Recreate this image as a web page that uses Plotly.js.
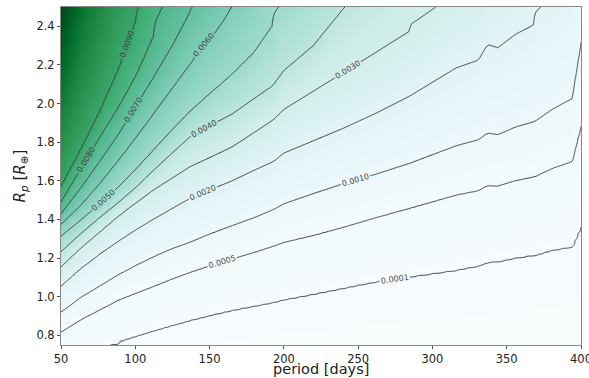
<!DOCTYPE html>
<html>
<head>
<meta charset="utf-8">
<script src="https://cdn.plot.ly/plotly-3.0.1.min.js"></script>
<style>html,body{margin:0;padding:0;background:#fff;}#chart{width:589px;height:378px;}</style>
</head>
<body>
<div id="chart"></div>
<script>
// Period columns (days) at which contour crossings were read
const periods = [50, 63, 76, 89, 101, 113, 125, 137, 150, 165, 180, 193, 200, 220, 240, 262, 285, 316, 331, 337, 344, 356, 369, 381, 394, 400];
// Contour levels shown
const levels = [0.0001, 0.0005, 0.0010, 0.0020, 0.0030, 0.0040, 0.0050, 0.0060, 0.0070, 0.0080, 0.0090];
// Radius (R_earth) where each level crosses each period column (null = outside the frame)
const r0001 = [null,null,null,0.768,0.797,0.826,0.852,0.878,0.903,0.930,0.952,0.971,0.985,1.014,1.045,1.078,1.104,1.138,1.160,1.178,1.182,1.202,1.215,1.242,1.259,1.363];
const r0005 = [0.818,0.880,0.932,0.984,1.020,1.056,1.093,1.127,1.160,1.196,1.230,1.262,1.282,1.318,1.360,1.410,1.459,1.527,1.550,1.576,1.574,1.602,1.622,1.666,1.700,1.882];
const r0010 = [0.921,0.995,1.056,1.116,1.165,1.210,1.250,1.283,1.325,1.368,1.410,1.452,1.482,1.535,1.585,1.635,1.692,1.782,1.813,1.848,1.839,1.879,1.908,1.972,2.026,2.318];
const r0020 = [1.055,1.144,1.220,1.290,1.350,1.405,1.458,1.510,1.553,1.600,1.655,1.700,1.744,1.808,1.872,1.950,2.040,2.185,2.225,2.306,2.289,2.358,2.410,null,null,null];
const r0030 = [1.155,1.250,1.335,1.420,1.490,1.557,1.615,1.674,1.720,1.775,1.850,1.917,1.970,2.065,2.160,2.265,2.376,null,null,null,null,null,null,null,null,null];
const r0040 = [1.233,1.325,1.410,1.490,1.570,1.660,1.745,1.830,1.885,1.945,2.025,2.095,2.170,2.300,2.490,null,null,null,null,null,null,null,null,null,null,null];
const r0050 = [1.315,1.395,1.480,1.570,1.665,1.765,1.865,1.960,2.050,2.150,2.265,2.410,null,null,null,null,null,null,null,null,null,null,null,null,null,null];
const r0060 = [1.375,1.470,1.585,1.710,1.830,1.955,2.080,2.205,2.350,null,null,null,null,null,null,null,null,null,null,null,null,null,null,null,null,null];
const r0070 = [1.430,1.560,1.700,1.845,1.995,2.145,2.300,2.475,null,null,null,null,null,null,null,null,null,null,null,null,null,null,null,null,null,null];
const r0080 = [1.490,1.660,1.825,1.985,2.150,2.360,null,null,null,null,null,null,null,null,null,null,null,null,null,null,null,null,null,null,null,null];
const r0090 = [1.570,1.754,1.955,2.180,2.440,null,null,null,null,null,null,null,null,null,null,null,null,null,null,null,null,null,null,null,null,null];
// Values read at the top (R=2.5) and bottom (R=0.75) edges of each column
const zTop = [0.0138,0.0118,0.0105,0.0096,0.00908,0.0083,0.0076,0.00705,0.0066,0.00599,0.0055,0.0051,0.0049,0.0044,0.00402,0.0036,0.00325,0.0028,0.0026,0.0024,0.0024,0.0022,0.00205,0.0019,0.0018,0.0013];
const zBottom = [0.00035,0.00022,0.00011,0.000092,0.00008,0.00007,0.00006,0.00005,0.000045,0.00004,0.000035,0.00003,0.00003,0.000028,0.000025,0.000022,0.00002,0.000018,0.000017,0.000016,0.000016,0.000015,0.000014,0.000013,0.000012,0.00001];
const xTicks = [50, 100, 150, 200, 250, 300, 350, 400];
const yTicks = [0.8, 1.0, 1.2, 1.4, 1.6, 1.8, 2.0, 2.2, 2.4];

const crossings = [r0001, r0005, r0010, r0020, r0030, r0040, r0050, r0060, r0070, r0080, r0090];
const RMIN = 0.75, RMAX = 2.5;

// ---- Build the grid table the library needs from the read crossings ----
const gx = [];
for (let p = 50; p <= 400; p += 2) gx.push(p);
const gy = [];
for (let i = 0; i <= 175; i++) gy.push(+(RMIN + i * 0.01).toFixed(3));

function columnKnots(p) {
  let j = 0;
  while (j < periods.length - 2 && p > periods[j + 1]) j++;
  const t = (p - periods[j]) / (periods[j + 1] - periods[j]);
  const lerp = (a, b) => a + t * (b - a);
  const knots = [[RMIN, lerp(zBottom[j], zBottom[j + 1])]];
  crossings.forEach((arr, k) => {
    const a = arr[j], b = arr[j + 1];
    if (a !== null && b !== null) knots.push([lerp(a, b), levels[k]]);
    else if (t === 0 && a !== null) knots.push([a, levels[k]]);
    else if (t === 1 && b !== null) knots.push([b, levels[k]]);
  });
  knots.push([RMAX, lerp(zTop[j], zTop[j + 1])]);
  return knots;
}

const z = gy.map(() => new Array(gx.length));
gx.forEach((p, j) => {
  const knots = columnKnots(p);
  gy.forEach((r, i) => {
    let v = knots[knots.length - 1][1];
    for (let m = 0; m < knots.length - 1; m++) {
      const a = knots[m], b = knots[m + 1];
      if (r >= a[0] && r <= b[0]) { v = a[1] + (b[1] - a[1]) * (r - a[0]) / (b[0] - a[0]); break; }
    }
    z[i][j] = v;
  });
});

const buGn = [[0,'rgb(247,252,253)'],[0.125,'rgb(229,245,249)'],[0.25,'rgb(204,236,230)'],[0.375,'rgb(153,216,201)'],[0.5,'rgb(102,194,164)'],[0.625,'rgb(65,174,118)'],[0.75,'rgb(35,139,69)'],[0.875,'rgb(0,109,44)'],[1,'rgb(0,68,27)']];
const lineCol = '#3a3a3a';
const font = 'DejaVu Sans, sans-serif';

const traces = [
  {type:'heatmap', x:gx, y:gy, z:z, colorscale:buGn, zmin:0, zmax:0.0138, zsmooth:'best', showscale:false, hoverinfo:'skip'},
  {type:'contour', x:gx, y:gy, z:z, showscale:false, hoverinfo:'skip',
   contours:{coloring:'none', start:levels[2], end:levels[10], size:0.001, showlabels:true,
             labelfont:{size:8, color:'#444', family:font}, labelformat:'.4f'},
   line:{color:lineCol, width:1, smoothing:0}},
  {type:'contour', x:gx, y:gy, z:z, showscale:false, hoverinfo:'skip',
   contours:{coloring:'none', start:levels[0], end:levels[1], size:levels[1]-levels[0], showlabels:true,
             labelfont:{size:8, color:'#444', family:font}, labelformat:'.4f'},
   line:{color:lineCol, width:1, smoothing:0}}
];

const layout = {
  width:589, height:378,
  margin:{l:61, r:8, t:7, b:33},
  paper_bgcolor:'#fff', plot_bgcolor:'#fff',
  font:{family:font, color:'#222', size:12},
  showlegend:false,
  xaxis:{range:[50,400], tickvals:xTicks, ticktext:xTicks.map(String), ticks:'outside', ticklen:3,
         tickcolor:'#555', showline:true, mirror:true, linecolor:'#888', linewidth:1, showgrid:false, zeroline:false,
         ticklabeloverflow:'allow', tickfont:{size:11.5, color:'#222'}},
  yaxis:{range:[RMIN,RMAX], tickvals:yTicks, ticktext:yTicks.map(v=>v.toFixed(1)), ticks:'outside', ticklen:3,
         tickcolor:'#555', showline:true, mirror:true, linecolor:'#888', linewidth:1, showgrid:false, zeroline:false,
         ticklabeloverflow:'allow', tickfont:{size:11.5, color:'#222'}},
  annotations:[
    {text:'period [days]', xref:'paper', yref:'paper', x:0.5, y:0, xanchor:'center', yanchor:'bottom',
     yshift:-33, showarrow:false, borderpad:0, font:{size:14.5, color:'#222', family:font}},
    {text:'<i>R</i><sub><i>p</i></sub> [<i>R</i><sub>⊕</sub>]', xref:'paper', yref:'paper', x:0, y:0.5,
     xanchor:'right', yanchor:'middle', xshift:-30, textangle:-90, showarrow:false,
     font:{size:15, color:'#222', family:font}}
  ]
};

Plotly.newPlot('chart', traces, layout, {staticPlot:true, displayModeBar:false});
</script>
</body>
</html>
